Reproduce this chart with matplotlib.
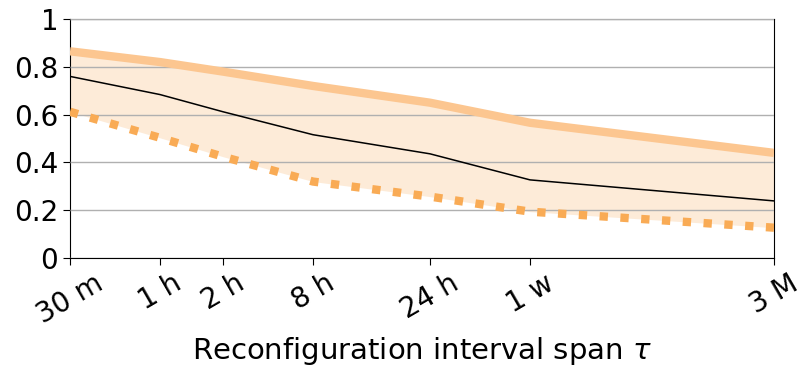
import matplotlib
matplotlib.use("Agg")
import matplotlib.pyplot as plt

# x axis: reconfiguration interval span (placed at the positions used in the paper figure)
tick_labels = ["30 m", "1 h", "2 h", "8 h", "24 h", "1 w", "3 M"]
tick_pos = [0, 90, 153, 243, 360, 460, 704]

upper = [0.865, 0.82, 0.78, 0.72, 0.65, 0.566, 0.44]
median = [0.76, 0.684, 0.612, 0.516, 0.436, 0.327, 0.239]
lower = [0.612, 0.503, 0.424, 0.32, 0.257, 0.194, 0.127]

plt.rcParams['font.family'] = ['DejaVu Sans']
fig = plt.figure(figsize=(8, 3.66), dpi=100)
ax = fig.add_axes([0.0875, 0.295, 0.88, 0.653])

ax.fill_between(tick_pos, lower, upper, color='#fdebd8', zorder=1, linewidth=0)
ax.plot(tick_pos, upper, color='#fcc690', lw=6, zorder=3, solid_capstyle='butt')
ax.plot(tick_pos, lower, color='#f9ab55', lw=6, ls=(0, (1, 1.5)), zorder=3)
ax.plot(tick_pos, median, color='black', lw=1.1, zorder=4)

ax.set_xlim(tick_pos[0], tick_pos[-1])
ax.set_ylim(0, 1)
ax.set_yticks([0, 0.2, 0.4, 0.6, 0.8, 1])
ax.set_yticklabels(["0", "0.2", "0.4", "0.6", "0.8", "1"])
ax.set_xticks(tick_pos)
ax.set_xticklabels(tick_labels, rotation=30, ha='center')
ax.tick_params(labelsize=20, length=5)
ax.tick_params(axis='x', pad=3)
ax.yaxis.grid(True, color='#b0b0b0', lw=1, zorder=2)
ax.set_axisbelow(False)
ax.set_xlabel(r"Reconfiguration interval span $\tau$", fontsize=21, labelpad=4)

fig.savefig("out.png", dpi=100)
